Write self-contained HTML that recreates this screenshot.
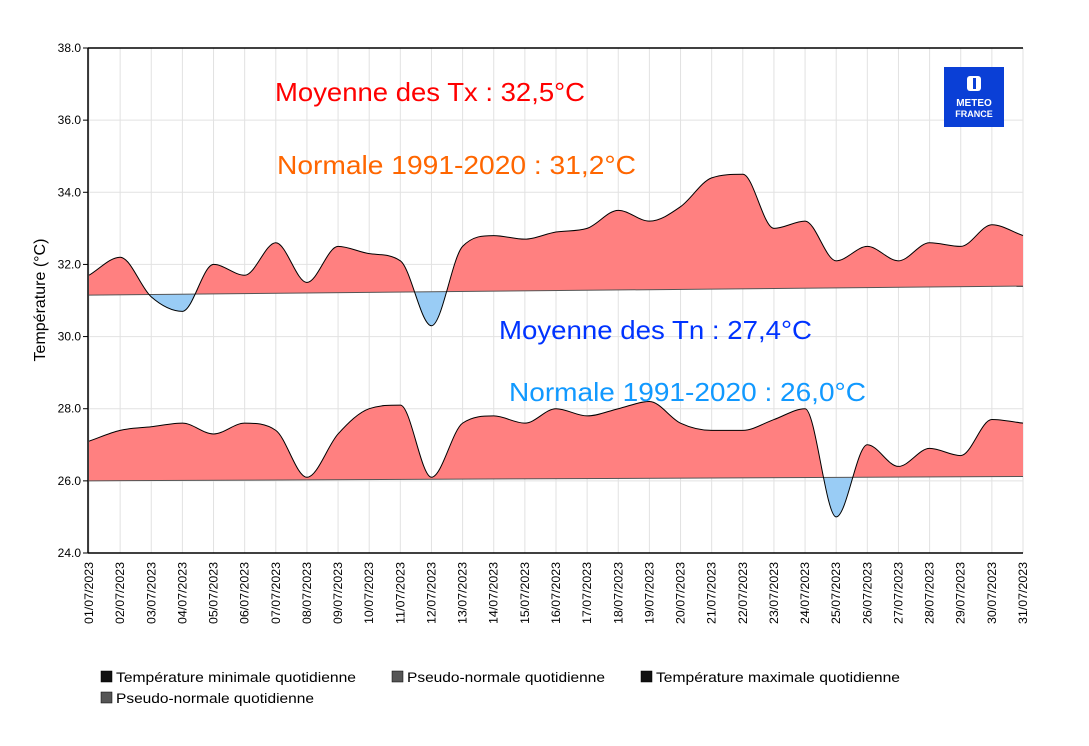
<!DOCTYPE html>
<html><head><meta charset="utf-8"><style>
body{margin:0;background:#fff;width:1089px;height:741px;overflow:hidden;font-family:"Liberation Sans",sans-serif}
</style></head><body>
<svg id="s" width="1089" height="741" xmlns="http://www.w3.org/2000/svg" font-family="Liberation Sans, sans-serif"></svg>
<script>
const S=document.getElementById('s');
const X0=89,X1=1023,Y38=48,Y24=553;
const px=i=>X0+i*(X1-X0)/30, py=v=>Y24-(v-24)*(Y24-Y38)/14;
const tx=[31.7,32.2,31.1,30.7,32.0,31.7,32.6,31.5,32.5,32.3,32.1,30.3,32.5,32.8,32.7,32.9,33.0,33.5,33.2,33.6,34.4,34.5,33.0,33.2,32.1,32.5,32.1,32.6,32.5,33.1,32.8];
const tn=[27.1,27.4,27.5,27.6,27.3,27.6,27.4,26.1,27.3,28.0,28.1,26.1,27.6,27.8,27.6,28.0,27.8,28.0,28.2,27.6,27.4,27.4,27.7,28.0,25.0,27.0,26.4,26.9,26.7,27.7,27.6];
function curve(d){const p=d.map((v,i)=>[px(i),py(v)]);const n=p.length,h=p[1][0]-p[0][0];
const del=[];for(let i=0;i<n-1;i++)del.push((p[i+1][1]-p[i][1])/h);
const m=[];m[0]=del[0];m[n-1]=del[n-2];
for(let i=1;i<n-1;i++){m[i]=(del[i-1]*del[i]<=0)?0:(del[i-1]+del[i])/2;}
for(let i=0;i<n-1;i++){if(del[i]==0){m[i]=0;m[i+1]=0;continue;}const a=m[i]/del[i],b=m[i+1]/del[i],s=a*a+b*b;if(s>9){const t=3/Math.sqrt(s);m[i]=t*a*del[i];m[i+1]=t*b*del[i];}}
let s=`M${p[0][0]},${p[0][1]}`;
for(let i=0;i<n-1;i++){s+=` C${p[i][0]+h/3},${p[i][1]+m[i]*h/3} ${p[i+1][0]-h/3},${p[i+1][1]-m[i+1]*h/3} ${p[i+1][0]},${p[i+1][1]}`;}return s;}
let h='';
for(let i=0;i<31;i++)h+=`<line x1="${px(i)}" y1="${Y38}" x2="${px(i)}" y2="${Y24}" stroke="#e2e2e2"/>`;
for(let v=24;v<=38;v+=2)h+=`<line x1="${X0}" y1="${py(v)}" x2="${X1}" y2="${py(v)}" stroke="#e2e2e2"/>`;
function block(d,n0,n1,id){const c=curve(d);const ya=py(n0),yb=py(n1);
const area=c+` L${X1},${yb} L${X0},${ya} Z`;
h+=`<clipPath id="a${id}"><path d="M${X0},0 L${X1},0 L${X1},${yb} L${X0},${ya} Z"/></clipPath>`;
h+=`<clipPath id="b${id}"><path d="M${X0},741 L${X1},741 L${X1},${yb} L${X0},${ya} Z"/></clipPath>`;
h+=`<path d="${area}" fill="#ff8080" clip-path="url(#a${id})"/>`;
h+=`<path d="${area}" fill="#99ccf5" clip-path="url(#b${id})"/>`;
h+=`<line x1="${X0}" y1="${ya}" x2="${X1}" y2="${yb}" stroke="#555" stroke-width="1"/>`;
h+=`<path d="${c}" fill="none" stroke="#000" stroke-width="1"/>`;}
block(tx,31.15,31.4,1);block(tn,26.0,26.12,2);
h+=`<line x1="${X0-1}" y1="${Y38}" x2="${X1}" y2="${Y38}" stroke="#000" stroke-width="1.5"/>`;
h+=`<line x1="${X0-1}" y1="${Y38}" x2="${X0-1}" y2="${Y24}" stroke="#000" stroke-width="1.5"/>`;
h+=`<line x1="${X0-1}" y1="${Y24}" x2="${X1}" y2="${Y24}" stroke="#000" stroke-width="1.5"/>`;
for(let v=24;v<=38;v+=2){h+=`<line x1="${X0-6}" y1="${py(v)}" x2="${X0-1}" y2="${py(v)}" stroke="#000"/>`;
h+=`<text x="${X0-8}" y="${py(v)+4}" font-size="12" text-anchor="end">${v}.0</text>`;}
for(let i=0;i<31;i++){const x=px(i)+4;const d=String(i+1).padStart(2,'0');
h+=`<text transform="translate(${x},562) rotate(-90)" font-size="12" text-anchor="end" textLength="62" lengthAdjust="spacingAndGlyphs">${d}/07/2023</text>`;}
h+=`<text transform="translate(45,300) rotate(-90)" font-size="16" text-anchor="middle">Température (°C)</text>`;
h+=`<text x="275" y="101" font-size="26" fill="#ff0000" textLength="310" lengthAdjust="spacingAndGlyphs">Moyenne des Tx : 32,5°C</text>`;
h+=`<text x="277" y="174" font-size="26" fill="#ff6600" textLength="359" lengthAdjust="spacingAndGlyphs">Normale 1991-2020 : 31,2°C</text>`;
h+=`<text x="499" y="339" font-size="26" fill="#0033ff" textLength="313" lengthAdjust="spacingAndGlyphs">Moyenne des Tn : 27,4°C</text>`;
h+=`<text x="509" y="401" font-size="26" fill="#1199ff" textLength="357" lengthAdjust="spacingAndGlyphs">Normale 1991-2020 : 26,0°C</text>`;
h+=`<rect x="944" y="67" width="60" height="60" fill="#0a3fd6"/>`;
h+=`<rect x="967" y="76" width="14" height="15" rx="3" fill="#fff"/><rect x="973" y="78" width="3" height="11" fill="#0a3fd6"/>`;
h+=`<text x="974" y="106" font-size="10" font-weight="bold" fill="#fff" text-anchor="middle">METEO</text>`;
h+=`<text x="974" y="117" font-size="9" font-weight="bold" fill="#fff" text-anchor="middle">FRANCE</text>`;
const leg=[[101,677,'#111','Température minimale quotidienne',240],[392,677,'#555','Pseudo-normale quotidienne',198],[641,677,'#111','Température maximale quotidienne',244],[101,698,'#555','Pseudo-normale quotidienne',198]];
for(const[x,y,c,t,w]of leg){h+=`<rect x="${x}" y="${y-6}" width="11" height="11" fill="${c}" stroke="#000" stroke-width="0.5"/>`;
h+=`<text x="${x+15}" y="${y+5}" font-size="14" textLength="${w}" lengthAdjust="spacingAndGlyphs">${t}</text>`;}
S.innerHTML=h;
</script>
</body></html>
